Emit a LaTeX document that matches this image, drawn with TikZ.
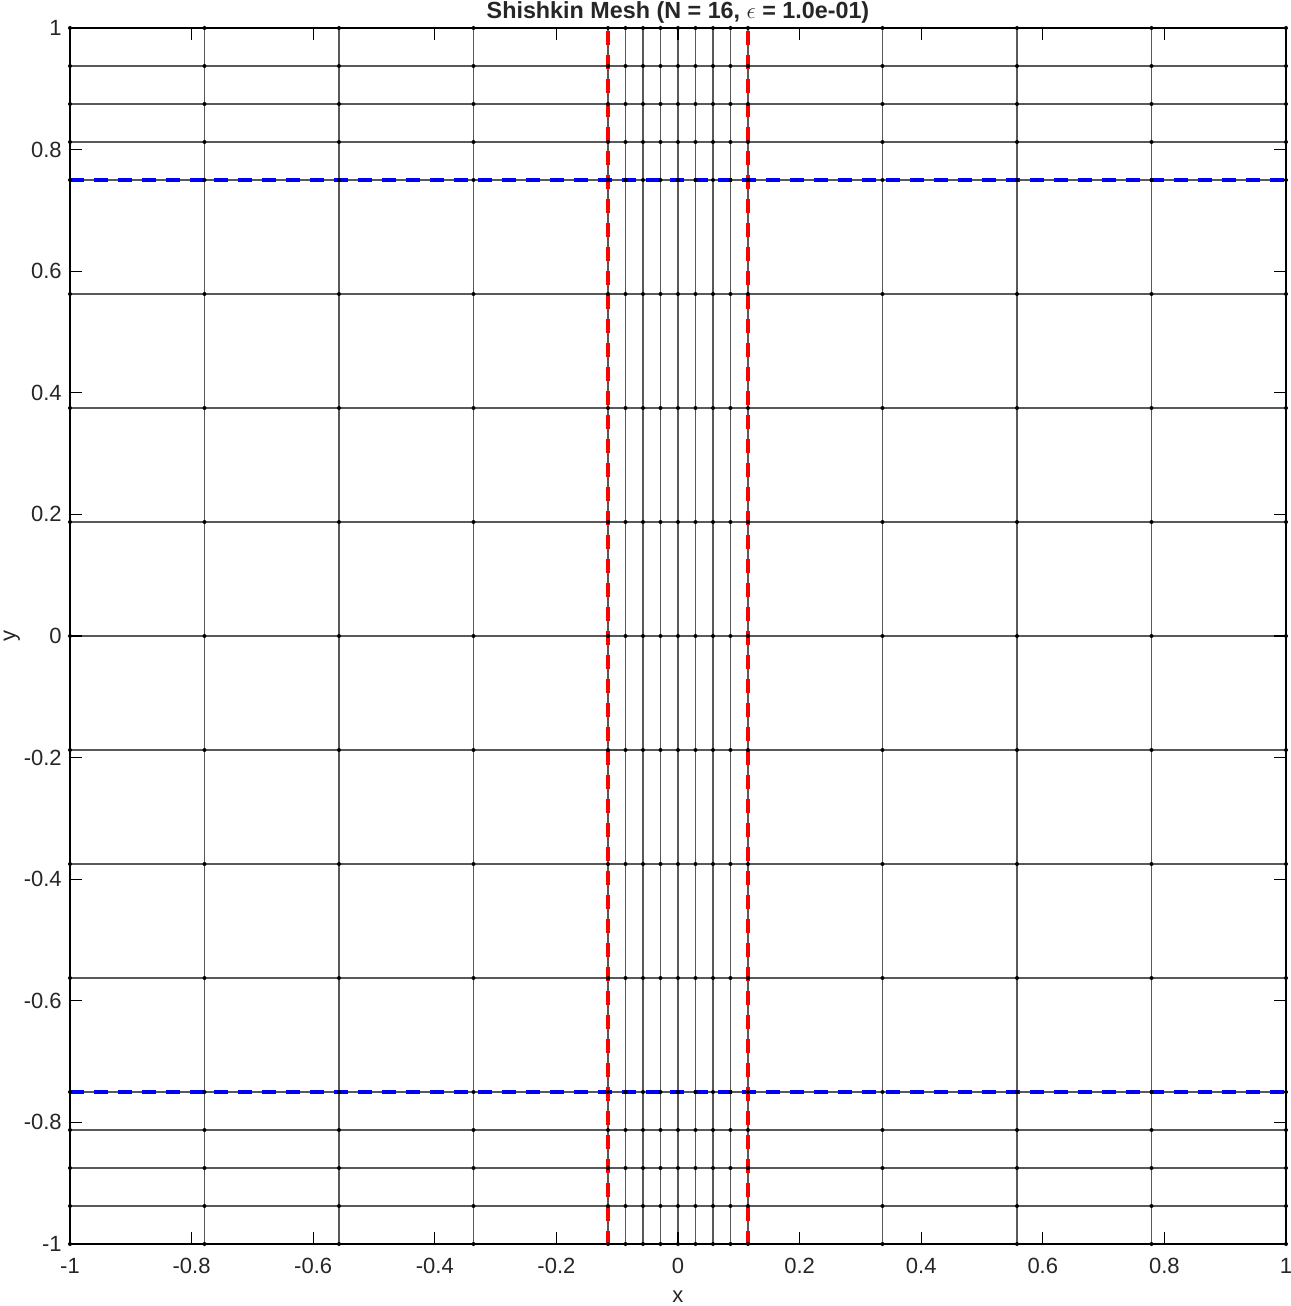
\documentclass[tikz,border=0pt]{standalone}
\usepackage{fontspec}
\setmainfont{Liberation Sans}
\begin{document}
\begin{tikzpicture}[x=456pt,y=456pt,
  meshline/.style={black!65, line width=1pt},
  axisline/.style={black, line width=0.8pt},
  tickmark/.style={black, line width=0.8pt},
  ticklabel/.style={font=\fontsize{16.5}{19}\selectfont, text=black!85, inner sep=0pt},
  redseg/.style={red, line width=2.4pt, line cap=butt},
  blueseg/.style={blue, line width=2.4pt, line cap=butt},
  nodedot/.style={black}]
\useasboundingbox (-1.11513,-1.10197) rectangle (1.00822,1.04605);
\def\xs{-1,-0.778775,-0.55755,-0.336325,-0.1151,-0.086325,-0.05755,-0.028775,0,0.028775,0.05755,0.086325,0.1151,0.336325,0.55755,0.778775,1}
\def\ys{-1,-0.9375,-0.875,-0.8125,-0.75,-0.5625,-0.375,-0.1875,0,0.1875,0.375,0.5625,0.75,0.8125,0.875,0.9375,1}
% mesh lines
\foreach \x in \xs {\draw[meshline] (\x,-1) -- (\x,1);}
\foreach \y in \ys {\draw[meshline] (-1,\y) -- (1,\y);}
% transition lines (dashed)
\begin{scope}
\clip (-1,-1) rectangle (1,1);
\foreach \i in {0,...,51} {
  \draw[redseg] (-0.1151,{1-0.005-\i*0.03947}) -- ++(0,-0.02303);
  \draw[redseg] (0.1151,{1-0.005-\i*0.03947}) -- ++(0,-0.02303);
  \draw[blueseg] ({-1+\i*0.03947},0.75) -- ++(0.02303,0);
  \draw[blueseg] ({-1+\i*0.03947},-0.75) -- ++(0.02303,0);
}
\end{scope}
% node dots
\foreach \x in \xs {\foreach \y in \ys {\fill[nodedot] (\x,\y) circle (1.5pt);}}
% axes box
\draw[axisline] (-1,-1) rectangle (1,1);
% ticks
\foreach \t/\l in {-1/-1,-0.8/-0.8,-0.6/-0.6,-0.4/-0.4,-0.2/-0.2,0/0,0.2/0.2,0.4/0.4,0.6/0.6,0.8/0.8,1/1} {
  \draw[tickmark] (\t,-1) -- ++(0,9pt);
  \draw[tickmark] (\t,1) -- ++(0,-9pt);
  \draw[tickmark] (-1,\t) -- ++(9pt,0);
  \draw[tickmark] (1,\t) -- ++(-9pt,0);
  \node[ticklabel, anchor=center] (xl\l) at (\t,-1.0362) {\l};
  \node[ticklabel, anchor=east] (yl\l) at (-1.0132,\t) {\l};
}
% labels
\node[ticklabel, font=\fontsize{17.5}{20}\selectfont] (title) at (0,1.0263) {\textbf{Shishkin Mesh (N = 16, $\epsilon$ = 1.0e-01)}};
\node[ticklabel] (xlabel) at (0,-1.0872) {x};
\node[ticklabel, rotate=90] (ylabel) at (-1.0955,0) {y};
\end{tikzpicture}
\end{document}
